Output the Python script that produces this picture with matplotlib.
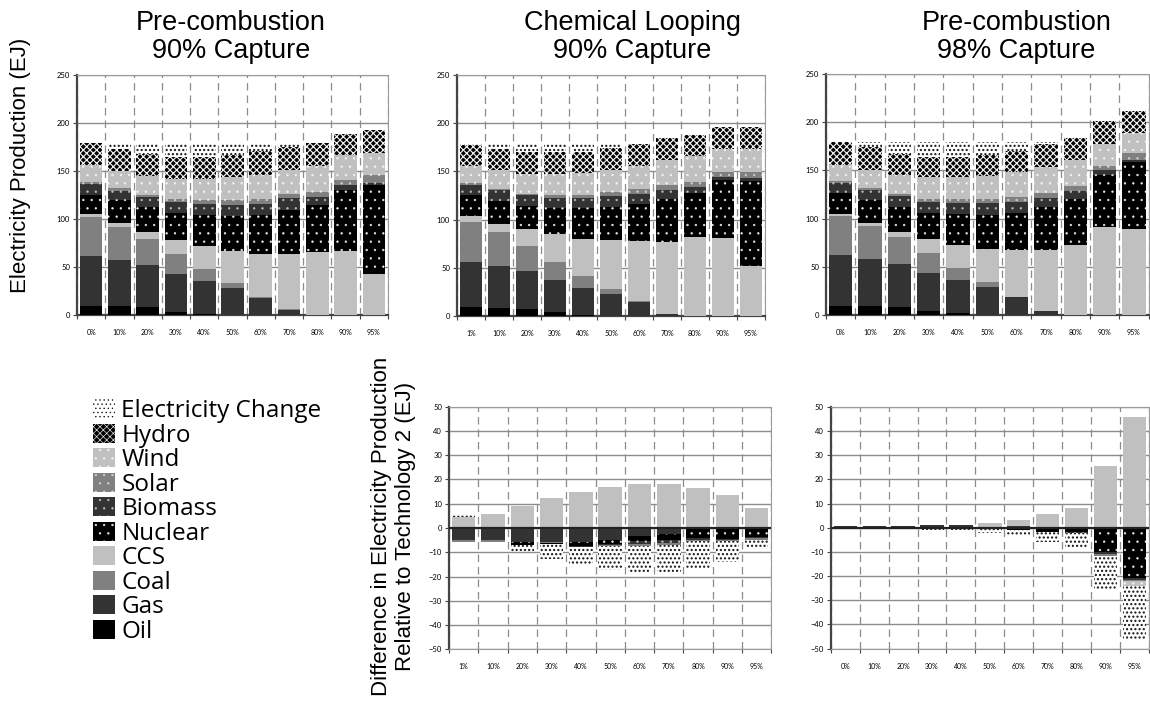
import numpy as np
import matplotlib
matplotlib.use('Agg')
import matplotlib.pyplot as plt
from matplotlib.patches import Patch

# stacking order, bottom to top
sources = ['Oil', 'Gas', 'Coal', 'CCS', 'Nuclear', 'Biomass', 'Solar', 'Wind', 'Hydro', 'Electricity Change']

cats_a = ['0%', '10%', '20%', '30%', '40%', '50%', '60%', '70%', '80%', '90%', '95%']
cats_b = ['1%', '10%', '20%', '30%', '40%', '50%', '60%', '70%', '80%', '90%', '95%']

# Pre-combustion, 90% capture (EJ)
pc90 = {
    'Oil':     [10, 10, 8.7, 3.5, 1.4, 0.7, 0, 0, 0, 0, 0],
    'Gas':     [51.7, 47.6, 43.7, 39.5, 34.3, 28.1, 18.4, 5.5, 0.7, 0, 0],
    'Coal':    [40.3, 34.4, 27.0, 20.8, 12.5, 4.8, 1.0, 0.7, 0, 0, 0],
    'CCS':     [3.0, 4.4, 6.9, 14.6, 23.8, 33.6, 44.4, 57.8, 65.2, 67.3, 43.0],
    'Nuclear': [20.5, 23.6, 26.7, 27.6, 32.7, 35.8, 40.7, 45.5, 49.1, 63.2, 92.6],
    'Biomass': [11.2, 9.0, 10.4, 12.0, 11.3, 11.8, 11.5, 12.0, 8.5, 4.9, 2.5],
    'Solar':   [2.2, 3.0, 1.6, 3.0, 4.0, 5.2, 5.0, 4.9, 5.2, 5.5, 8.2],
    'Wind':    [17.5, 18.0, 20.0, 20.5, 21.5, 24.2, 25.0, 25.2, 27.0, 25.4, 22.8],
    'Hydro':   [22.6, 23.0, 22.8, 23.5, 23.5, 22.1, 25.0, 23.1, 23.8, 22.6, 23.6],
    'Electricity Change': [0, 6.0, 11.2, 14.0, 14.0, 12.9, 8.0, 4.3, 0, 0, 0],
}

# Chemical looping, 90% capture (EJ)
cl90 = {
    'Oil':     [9.6, 8.5, 7.3, 4.1, 0.5, 0, 0, 0, 0, 0, 0],
    'Gas':     [46.6, 43.6, 39.7, 33.2, 28.9, 23.2, 15.0, 2.4, 0, 0, 0],
    'Coal':    [40.8, 34.5, 25.1, 18.9, 12.3, 4.6, 1.0, 0, 0, 0, 0],
    'CCS':     [6.3, 9.0, 17.7, 28.7, 38.3, 51.0, 62.0, 74.8, 81.6, 80.4, 52.0],
    'Nuclear': [21.9, 23.2, 24.8, 26.7, 31.6, 34.4, 37.8, 43.8, 45.5, 60.7, 88.0],
    'Biomass': [10.4, 11.4, 10.4, 10.6, 10.6, 11.3, 11.0, 9.4, 7.1, 2.7, 3.2],
    'Solar':   [1.9, 1.9, 2.0, 2.8, 3.7, 4.2, 5.0, 5.1, 5.1, 5.9, 6.6],
    'Wind':    [18.0, 19.3, 19.8, 21.8, 22.6, 22.7, 24.2, 26.0, 26.7, 23.1, 23.0],
    'Hydro':   [21.5, 21.7, 23.2, 23.2, 21.8, 22.8, 22.3, 22.8, 22.0, 23.6, 23.6],
    'Electricity Change': [2.6, 6.5, 9.6, 9.6, 9.3, 5.4, 1.3, 0, 0, 0, 0],
}

# Pre-combustion, 98% capture (EJ)
pc98 = {
    'Oil':     [10, 10, 9, 4.6, 2.4, 0.7, 0, 0, 0, 0, 0],
    'Gas':     [52.5, 48.5, 44.5, 39.2, 34.6, 29.0, 19.3, 4.8, 0.7, 0, 0],
    'Coal':    [40.4, 34.4, 27.1, 21.2, 12.4, 5.0, 0, 0, 0, 0, 0],
    'CCS':     [2.1, 3.1, 5.9, 13.7, 23.5, 33.9, 48.4, 62.9, 72.2, 91.5, 89.4],
    'Nuclear': [22.0, 23.8, 25.5, 27.7, 32.2, 35.4, 38.3, 44.0, 47.8, 54.2, 69.4],
    'Biomass': [9.7, 10.0, 11.3, 11.3, 11.4, 12.0, 11.2, 9.3, 8.3, 4.3, 2.5],
    'Solar':   [2.6, 2.5, 2.7, 2.8, 4.0, 4.5, 5.8, 5.4, 5.0, 4.8, 7.2],
    'Wind':    [16.5, 18.3, 19.7, 23.1, 23.1, 23.5, 25.6, 27.6, 26.5, 22.7, 20.7],
    'Hydro':   [23.8, 23.2, 21.7, 20.8, 20.8, 22.0, 22.0, 23.0, 23.0, 23.8, 22.5],
    'Electricity Change': [0, 5.8, 12.2, 15.2, 15.2, 13.3, 8.7, 2.3, 0, 0, 0],
}

# differences relative to technology 2 (EJ)
cl90_diff = {
    'Oil':     [0, 0, 0, 0, 0, 0, 0, 0, 0, 0, 0],
    'Gas':     [-4.9, -4.9, -5.9, -5.9, -5.9, -4.9, -3.2, -2.3, 0, 0, 0],
    'Coal':    [-0.7, -0.7, 0, -0.3, 0, 0, 0, 0, 0, 0, 0],
    'CCS':     [4.7, 5.8, 9.2, 12.4, 14.9, 17.0, 18.3, 18.3, 16.6, 13.7, 8.3],
    'Nuclear': [0, 0, -1.0, -0.6, -1.5, -1.7, -2.3, -2.7, -4.3, -4.5, -3.6],
    'Biomass': [0, 0, 0, 0, -0.3, -0.4, -1.0, -1.0, -0.6, -0.4, -0.6],
    'Solar':   [0, 0, 0, 0, -0.3, -0.4, -0.9, -1.0, -0.3, -0.3, -0.6],
    'Wind':    [0, 0, 0, 0, 0, 0, 0, 0, 0, 0, 0],
    'Hydro':   [0, 0, 0, 0, 0, 0, 0, 0, 0, 0, 0],
    'Electricity Change': [0.9, 0, -2.5, -6.0, -7.0, -9.8, -10.9, -11.5, -11.6, -8.7, -3.7],
}

pc98_diff = {
    'Oil':     [0, 0, 0, 0, 0, 0, 0, 0, 0, 0, 0],
    'Gas':     [0.8, 0.8, 0.8, 1.0, 1.0, 0.5, 0.9, 0, 0, 0, 0],
    'Coal':    [-0.4, -0.4, -0.4, 0, 0, 0, 0, 0, 0, 0, 0],
    'CCS':     [0, 0, 0, 0, 0, 1.5, 2.3, 5.7, 8.2, 25.6, 45.9],
    'Nuclear': [0, 0, 0, 0, 0, 0, -0.8, -1.6, -1.7, -9.8, -20.8],
    'Biomass': [0, 0, 0, 0, 0, 0, 0, -0.3, -0.3, -1.0, -0.6],
    'Solar':   [0, 0, 0, 0, 0, 0, 0, 0, 0, -0.8, -0.6],
    'Wind':    [0, 0, 0, 0, 0, 0, 0, 0, 0, 0, -2.0],
    'Hydro':   [0, 0, 0, 0, 0, 0, 0, 0, 0, 0, 0],
    'Electricity Change': [0, 0, 0, -1.0, -1.0, -2.0, -2.6, -3.9, -6.3, -14.0, -22.0],
}

# grayscale fills, hatch colour comes from edgecolor
styles = {
    'Oil':     dict(facecolor='black', edgecolor='black', hatch=None),
    'Gas':     dict(facecolor='#333333', edgecolor='#333333', hatch=None),
    'Coal':    dict(facecolor='#808080', edgecolor='#808080', hatch=None),
    'CCS':     dict(facecolor='#c0c0c0', edgecolor='#c0c0c0', hatch=None),
    'Nuclear': dict(facecolor='black', edgecolor='#e8e8e8', hatch='..'),
    'Biomass': dict(facecolor='#333333', edgecolor='#b8b8b8', hatch='..'),
    'Solar':   dict(facecolor='#808080', edgecolor='#d0d0d0', hatch='..'),
    'Wind':    dict(facecolor='#c0c0c0', edgecolor='#f4f4f4', hatch='..'),
    'Hydro':   dict(facecolor='black', edgecolor='#f0f0f0', hatch='xxxxx'),
    'Electricity Change': dict(facecolor='white', edgecolor='#111111', hatch='....'),
}
hatch_lw = {'Hydro': 0.85, 'Electricity Change': 1.0}

plt.rcParams['hatch.linewidth'] = 0.45
tick_font = 'Lato'
text_font = 'Liberation Sans'


def set_hatch_width(artists, name):
    lw = hatch_lw.get(name)
    if lw is None:
        return
    for a in artists:
        if hasattr(a, 'set_hatch_linewidth'):
            a.set_hatch_linewidth(lw)


def draw_panel(ax, cats, data, ylim, yticks, bottom_panel=False):
    x = np.arange(len(cats))
    pos = np.zeros(len(cats))
    neg = np.zeros(len(cats))
    for name in sources:
        vals = np.array(data[name], dtype=float)
        base = np.where(vals >= 0, pos, neg)
        bars = ax.bar(x, vals, 0.8, bottom=base, linewidth=0, zorder=3, **styles[name])
        set_hatch_width(bars, name)
        pos += np.clip(vals, 0, None)
        neg += np.clip(vals, None, 0)

    ax.set_xlim(-0.5, len(cats) - 0.5)
    ax.set_ylim(*ylim)
    ax.set_yticks(yticks)
    ax.set_xticks(x)
    ax.set_xticklabels(cats, fontfamily=tick_font, fontsize=5)
    ax.set_xticks(np.arange(len(cats) + 1) - 0.5, minor=True)
    for lab in ax.get_yticklabels():
        lab.set_fontfamily(tick_font)
        lab.set_fontsize(5.5)

    ax.tick_params(axis='x', which='major', length=0, pad=10)
    ax.tick_params(axis='x', which='minor', length=3, color='#444444', width=0.8)
    ax.tick_params(axis='y', length=3, color='#444444', width=0.8, pad=2)

    ax.grid(axis='y', which='major', color='#8c8c8c', linewidth=1.0)
    ax.grid(axis='x', which='minor', color='#8c8c8c', linewidth=0.9, linestyle=(0, (6, 4)))
    ax.set_axisbelow(True)

    ax.spines['left'].set_color('#444444')
    ax.spines['left'].set_linewidth(1.6)
    ax.spines['right'].set_color('#9a9a9a')
    ax.spines['top'].set_color('#9a9a9a')
    if bottom_panel:
        ax.spines['bottom'].set_color('#9a9a9a')
        ax.axhline(0, color='#222222', linewidth=1.6, zorder=4)
    else:
        ax.spines['bottom'].set_color('#444444')
        ax.spines['bottom'].set_linewidth(1.6)


fig = plt.figure(figsize=(11.5, 7.08), dpi=100)

ax1 = fig.add_axes([0.0670, 0.5547, 0.2704, 0.3394])
ax2 = fig.add_axes([0.3974, 0.5537, 0.2678, 0.3404])
ax3 = fig.add_axes([0.7183, 0.5547, 0.2805, 0.3409])
ax5 = fig.add_axes([0.3904, 0.0829, 0.2804, 0.3427])
ax6 = fig.add_axes([0.7223, 0.0838, 0.2770, 0.3414])

top_ticks = [0, 50, 100, 150, 200, 250]
diff_ticks = list(range(-50, 51, 10))

draw_panel(ax1, cats_a, pc90, (0, 250), top_ticks)
draw_panel(ax2, cats_b, cl90, (0, 250), top_ticks)
draw_panel(ax3, cats_a, pc98, (0, 250), top_ticks)
draw_panel(ax5, cats_b, cl90_diff, (-50, 50), diff_ticks, bottom_panel=True)
draw_panel(ax6, cats_a, pc98_diff, (-50, 50), diff_ticks, bottom_panel=True)

# panel titles
title_y = 0.948
for tx, txt in [(0.201, 'Pre-combustion\n90% Capture'),
                (0.550, 'Chemical Looping\n90% Capture'),
                (0.884, 'Pre-combustion\n98% Capture')]:
    fig.text(tx, title_y, txt, ha='center', va='center',
             fontsize=19.5, fontfamily=text_font, linespacing=1.08)

fig.text(0.0174, 0.767, 'Electricity Production (EJ)', rotation=90, ha='center', va='center',
         fontsize=16, fontfamily=text_font)
fig.text(0.342, 0.256, 'Difference in Electricity Production\nRelative to Technology 2 (EJ)',
         rotation=90, ha='center', va='center', multialignment='center',
         fontsize=16, fontfamily=text_font, linespacing=1.15)

# legend, top entry is the last stacked series
handles = []
for name in sources[::-1]:
    h = Patch(linewidth=0, **styles[name])
    set_hatch_width([h], name)
    handles.append(h)
fig.legend(handles, sources[::-1], loc='upper left', bbox_to_anchor=(0.081, 0.436),
           frameon=False, prop={'family': 'Open Sans', 'size': 17.5},
           handlelength=0.88, handleheight=0.83, handletextpad=0.28,
           labelspacing=0.02, borderpad=0, borderaxespad=0)

fig.savefig('out.png', dpi=100)
